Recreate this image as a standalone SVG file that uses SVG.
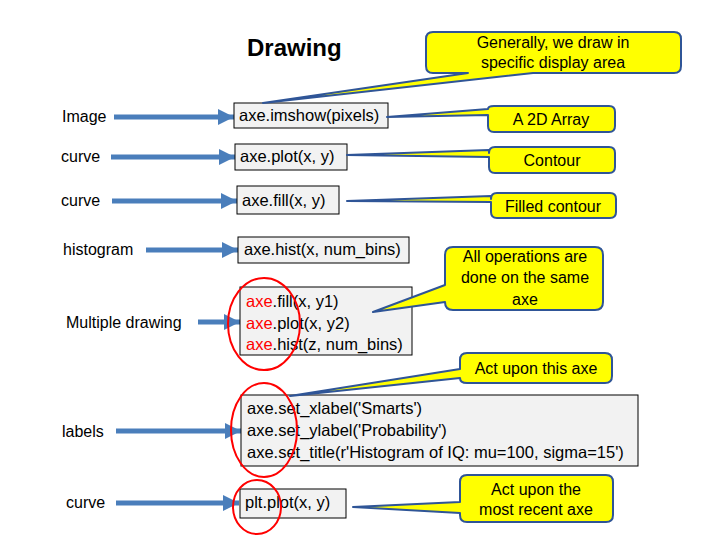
<svg xmlns="http://www.w3.org/2000/svg" width="720" height="540" viewBox="0 0 720 540">
<defs>
<marker id="ah" markerUnits="userSpaceOnUse" markerWidth="18" markerHeight="16" refX="16" refY="8" orient="auto">
<path d="M0,0 L16,8 L0,16 Z" fill="#4A7EBB"/>
</marker>
<style>
text{font-family:"Liberation Sans",Arial,sans-serif;fill:#000}
.lbl{font-size:16px}
.code{font-size:16.5px}
.red{fill:#FF0000}
.box{fill:#F2F2F2;stroke:#000;stroke-width:1}
.call{fill:#FFFF00;stroke:#2F5597;stroke-width:2;stroke-linejoin:round}
.ct{font-size:16px;text-anchor:middle}
.arr{stroke:#4A7EBB;stroke-width:5;fill:none;marker-end:url(#ah)}
.ell{fill:none;stroke:#FF0000;stroke-width:2}
.title{font-size:24px;font-weight:bold}
</style>
</defs>
<rect width="720" height="540" fill="#FFFFFF"/>
<text class="title" x="247" y="56">Drawing</text>

<g id="connectors">
<line class="arr" x1="114" y1="117" x2="234" y2="117"/>
<line class="arr" x1="111" y1="157" x2="235" y2="157"/>
<line class="arr" x1="112" y1="201" x2="237" y2="201"/>
<line class="arr" x1="146" y1="250" x2="238" y2="250"/>
<line class="arr" x1="198" y1="322" x2="240" y2="322"/>
<line class="arr" x1="116" y1="431" x2="241" y2="431"/>
<line class="arr" x1="116" y1="503" x2="239" y2="503"/>
</g>

<g id="row-labels">
<text class="lbl" x="62" y="122">Image</text>
<text class="lbl" x="61" y="162">curve</text>
<text class="lbl" x="61" y="206">curve</text>
<text class="lbl" x="63" y="255">histogram</text>
<text class="lbl" x="66" y="328">Multiple drawing</text>
<text class="lbl" x="62" y="437">labels</text>
<text class="lbl" x="66" y="508">curve</text>
</g>

<g id="imshow"><rect class="box" x="234" y="103" width="154" height="25"/><text class="code" x="239" y="121">axe.imshow(pixels)</text></g>
<g id="plot"><rect class="box" x="235" y="144" width="112" height="26"/><text class="code" x="240" y="162">axe.plot(x, y)</text></g>
<g id="fill"><rect class="box" x="237" y="186" width="102" height="28"/><text class="code" x="242" y="206">axe.fill(x, y)</text></g>
<g id="hist"><rect class="box" x="238" y="237" width="171" height="26"/><text class="code" x="244" y="255">axe.hist(x, num_bins)</text></g>
<g id="multi"><rect class="box" x="240" y="287" width="172" height="68"/>
<text class="code" x="246" y="307"><tspan class="red">axe</tspan>.fill(x, y1)</text>
<text class="code" x="246" y="329"><tspan class="red">axe</tspan>.plot(x, y2)</text>
<text class="code" x="246" y="350"><tspan class="red">axe</tspan>.hist(z, num_bins)</text>
</g>
<g id="labelsbox"><rect class="box" x="241" y="395" width="397" height="71"/>
<text class="code" x="247" y="414">axe.set_xlabel('Smarts')</text>
<text class="code" x="247" y="436">axe.set_ylabel('Probability')</text>
<text class="code" x="247" y="458">axe.set_title(r'Histogram of IQ: mu=100, sigma=15')</text>
</g>
<g id="pltplot"><rect class="box" x="240" y="489" width="106" height="29"/><text class="code" x="245" y="508">plt.plot(x, y)</text></g>

<g id="ellipses">
<ellipse class="ell" cx="264" cy="324" rx="36" ry="46"/>
<ellipse class="ell" cx="264" cy="430" rx="33" ry="47"/>
<ellipse class="ell" cx="257" cy="507" rx="24" ry="27"/>
</g>

<g id="callout-display">
<path class="call" d="M433 32 H674 Q681 32 681 39 V66 Q681 73 674 73 H533 L263 103 L468 73 H433 Q426 73 426 66 V39 Q426 32 433 32 Z"/>
<text class="ct" x="553" y="48">Generally, we draw in</text>
<text class="ct" x="553" y="68">specific display area</text>
</g>
<g id="callout-2d">
<path class="call" d="M494 106 H609 Q615 106 615 112 V126 Q615 132 609 132 H494 Q488 132 488 126 V115 L387 117 L488 109 Q488 106 494 106 Z"/>
<text class="ct" x="551" y="125">A 2D Array</text>
</g>
<g id="callout-contour">
<path class="call" d="M495 147 H609 Q615 147 615 153 V167 Q615 173 609 173 H495 Q489 173 489 167 V157 L347 155 L489 150 V153 Q489 147 495 147 Z"/>
<text class="ct" x="552" y="166">Contour</text>
</g>
<g id="callout-filled">
<path class="call" d="M497 193 H610 Q616 193 616 199 V212 Q616 218 610 218 H497 Q491 218 491 212 V202 L347 201 L491 196 V199 Q491 193 497 193 Z"/>
<text class="ct" x="553" y="212">Filled contour</text>
</g>
<g id="callout-same">
<path class="call" d="M453 247 H595 Q603 247 603 255 V302 Q603 310 595 310 H453 Q445 310 445 302 L373 312 L445 285 V255 Q445 247 453 247 Z"/>
<text class="ct" x="525" y="262">All operations are</text>
<text class="ct" x="525" y="283">done on the same</text>
<text class="ct" x="525" y="305">axe</text>
</g>
<g id="callout-this">
<path class="call" d="M467 353 H605 Q612 353 612 360 V376 Q612 383 605 383 H467 Q460 383 460 378 L290 396 L460 369 V360 Q460 353 467 353 Z"/>
<text class="ct" x="536" y="374">Act upon this axe</text>
</g>
<g id="callout-recent">
<path class="call" d="M467 475 H606 Q613 475 613 482 V515 Q613 522 606 522 H467 Q460 522 460 515 V513 L353 507 L460 502 V482 Q460 475 467 475 Z"/>
<text class="ct" x="536" y="495">Act upon the</text>
<text class="ct" x="536" y="515">most recent axe</text>
</g>
</svg>
